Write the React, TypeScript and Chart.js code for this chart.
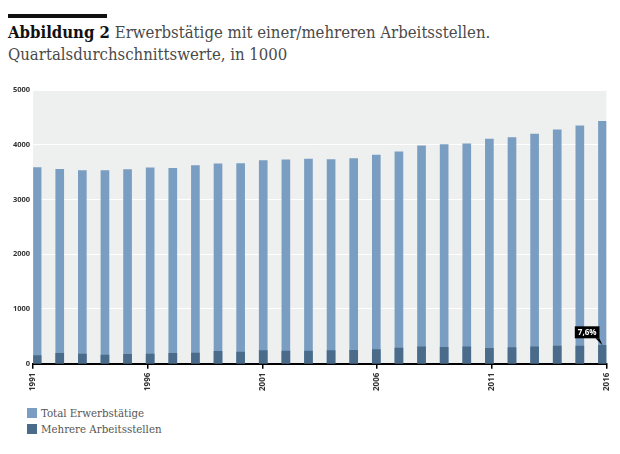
import React, { useEffect, useRef } from "react";
import { Chart, registerables } from "chart.js";

Chart.register(...registerables);

const YEARS = [1991, 1992, 1993, 1994, 1995, 1996, 1997, 1998, 1999, 2000, 2001, 2002, 2003, 2004, 2005, 2006, 2007, 2008, 2009, 2010, 2011, 2012, 2013, 2014, 2015, 2016];
const TOTAL = [3584, 3553, 3529, 3529, 3548, 3577, 3571, 3621, 3650, 3657, 3712, 3724, 3736, 3730, 3749, 3810, 3870, 3980, 4005, 4017, 4103, 4133, 4194, 4274, 4347, 4427];
const MEHRERE = [147, 189, 177, 159, 170, 178, 189, 196, 225, 214, 238, 232, 232, 238, 244, 256, 287, 306, 299, 306, 280, 293, 306, 324, 324, 336];
const X_TICKS = [1991, 1996, 2001, 2006, 2011, 2016];
const Y_TICKS = [0, 1000, 2000, 3000, 4000, 5000];
const SERIES_LABELS = ["Total Erwerbstätige", "Mehrere Arbeitsstellen"];
const SERIES_COLORS = ["#7a9ec1", "#4a6c8a"];

const TITLE_BOLD = "Abbildung 2";
const TITLE_LINE1 = "Erwerbstätige mit einer/mehreren Arbeitsstellen.";
const TITLE_LINE2 = "Quartalsdurchschnittswerte, in 1000";

const SERIF = "'DejaVu Serif Condensed', 'DejaVu Serif', serif";
const SANS = "'Open Sans', 'DejaVu Sans', sans-serif";
const BAR_INSET = 0.175; // year units so edge bars sit inside the plot

const plotBackground = {
  id: "plotBackground",
  beforeDraw(chart: any) {
    const { ctx, chartArea } = chart;
    ctx.save();
    ctx.fillStyle = "#eeefef";
    ctx.fillRect(chartArea.left, chartArea.top, chartArea.right - chartArea.left, chartArea.bottom - chartArea.top);
    ctx.restore();
  },
};

const shareLabel = {
  id: "shareLabel",
  afterDatasetsDraw(chart: any) {
    const meta = chart.getDatasetMeta(1);
    const el = meta.data[meta.data.length - 1];
    if (!el) return;
    const last = TOTAL.length - 1;
    const pct = ((MEHRERE[last] / TOTAL[last]) * 100).toFixed(1).replace(".", ",") + "%";
    const { ctx } = chart;
    ctx.save();
    ctx.font = `bold 8px ${SANS}`;
    const w = ctx.measureText(pct).width + 6;
    const h = 12;
    const right = el.x - 3;
    const bottom = el.y - 7;
    ctx.fillStyle = "#000";
    ctx.fillRect(right - w, bottom - h, w, h);
    ctx.beginPath();
    ctx.moveTo(right - 4, bottom);
    ctx.lineTo(right, bottom);
    ctx.lineTo(el.x, el.y);
    ctx.closePath();
    ctx.fill();
    ctx.fillStyle = "#fff";
    ctx.textAlign = "center";
    ctx.textBaseline = "middle";
    ctx.fillText(pct, right - w / 2, bottom - h / 2 + 0.5);
    ctx.restore();
  },
};

export default function App() {
  const canvasRef = useRef<HTMLCanvasElement | null>(null);

  useEffect(() => {
    if (!canvasRef.current) return;
    const chart = new Chart(canvasRef.current, {
      type: "bar",
      data: {
        datasets: [
          {
            label: SERIES_LABELS[0],
            data: YEARS.map((y, i) => ({ x: y, y: TOTAL[i] })),
            backgroundColor: SERIES_COLORS[0],
            xAxisID: "xb",
            barThickness: 8,
            grouped: false,
            order: 2,
          },
          {
            label: SERIES_LABELS[1],
            data: YEARS.map((y, i) => ({ x: y, y: MEHRERE[i] })),
            backgroundColor: SERIES_COLORS[1],
            xAxisID: "xb",
            barThickness: 8,
            grouped: false,
            order: 1,
          },
        ],
      } as any,
      options: {
        animation: false,
        responsive: true,
        maintainAspectRatio: false,
        layout: { padding: { left: 10, right: 9, top: 12, bottom: 0 } },
        plugins: { legend: { display: false }, tooltip: { enabled: false } },
        scales: {
          xb: {
            type: "linear",
            display: false,
            offset: false,
            grid: { offset: false },
            min: YEARS[0] - BAR_INSET,
            max: YEARS[YEARS.length - 1] + BAR_INSET,
          },
          x: {
            type: "linear",
            position: "bottom",
            offset: false,
            min: YEARS[0],
            max: YEARS[YEARS.length - 1],
            afterBuildTicks: (s: any) => {
              s.ticks = X_TICKS.map((v) => ({ value: v }));
            },
            grid: { display: true, offset: false, drawOnChartArea: false, drawTicks: true, tickLength: 5, color: "#000", lineWidth: 1.5 },
            border: { display: true, color: "#000", width: 2 },
            ticks: {
              autoSkip: false,
              minRotation: 90,
              maxRotation: 90,
              padding: 4,
              color: "#333",
              font: { family: SANS, size: 8, weight: "bold" },
              callback: (v: any) => String(v),
            },
          },
          y: {
            min: Y_TICKS[0],
            max: Y_TICKS[Y_TICKS.length - 1],
            afterBuildTicks: (s: any) => {
              s.ticks = Y_TICKS.map((v) => ({ value: v }));
            },
            grid: { color: "#ffffff", lineWidth: 1, drawTicks: false },
            border: { display: false },
            ticks: {
              padding: 3,
              color: "#333",
              font: { family: SANS, size: 7.5, weight: "bold" },
              callback: (v: any) => String(v),
            },
          },
        },
      } as any,
      plugins: [plotBackground, shareLabel],
    });
    return () => chart.destroy();
  }, []);

  return (
    <div style={{ position: "absolute", left: 0, top: 0, width: 620, height: 454, background: "#fff", overflow: "hidden" }}>
      <div style={{ position: "absolute", left: 8, top: 14, width: 99, height: 4, background: "#111" }} />
      <div
        style={{
          position: "absolute",
          left: 8,
          top: 21,
          fontFamily: SERIF,
          fontSize: 16.6,
          lineHeight: "22px",
          color: "#4a4a4a",
          whiteSpace: "nowrap",
        }}
      >
        <span style={{ fontWeight: "bold", color: "#111" }}>{TITLE_BOLD}</span> {TITLE_LINE1}
        <br />
        {TITLE_LINE2}
      </div>
      <div style={{ position: "absolute", left: 0, top: 78, width: 620, height: 317 }}>
        <canvas ref={canvasRef} />
      </div>
      <div style={{ position: "absolute", left: 27, top: 405, fontFamily: SERIF, fontSize: 11.4, color: "#555" }}>
        {SERIES_LABELS.map((label, i) => (
          <div key={label} style={{ display: "flex", alignItems: "center", height: 16 }}>
            <span style={{ display: "inline-block", width: 10, height: 10, background: SERIES_COLORS[i], marginRight: 4 }} />
            <span>{label}</span>
          </div>
        ))}
      </div>
    </div>
  );
}
